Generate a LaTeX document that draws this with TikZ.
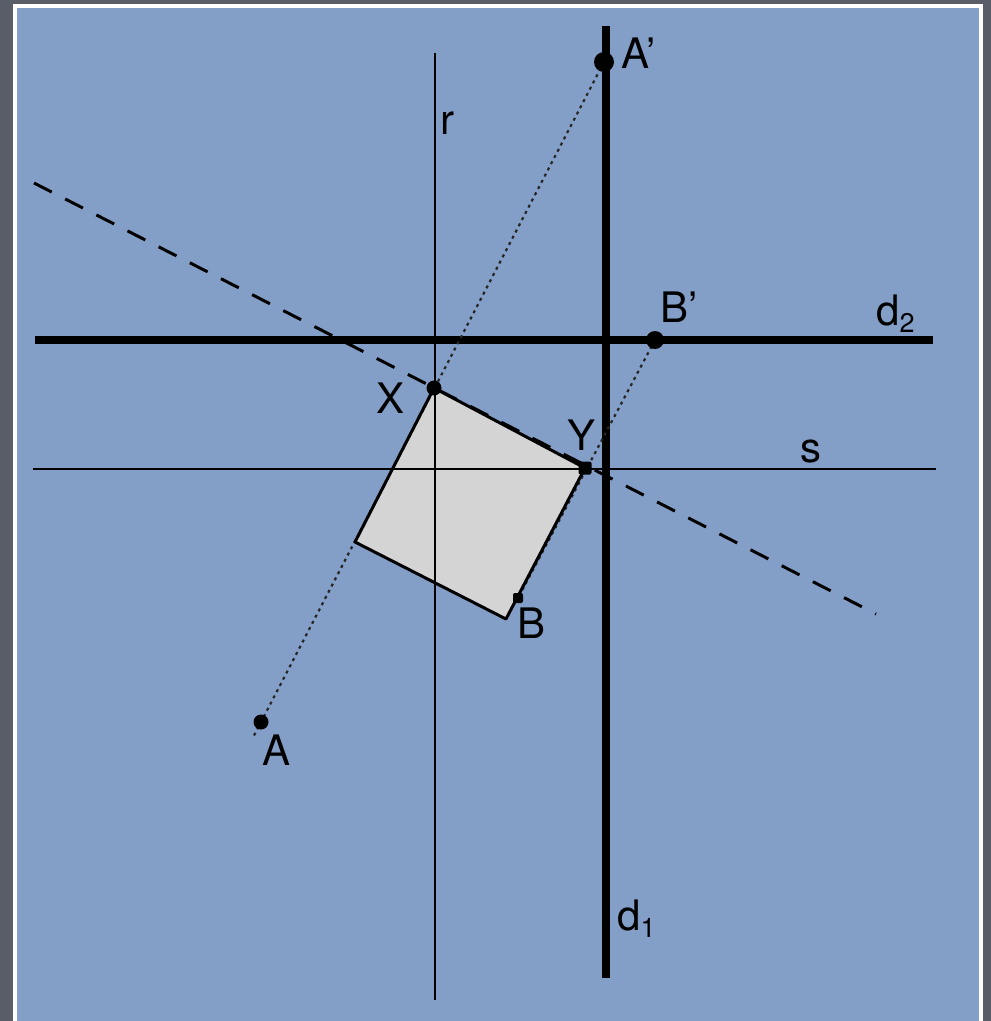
\documentclass[tikz,border=0pt]{standalone}
\usepackage{fontspec}
\setmainfont{TeX Gyre Heros}
\definecolor{slate}{RGB}{89,93,104}
\definecolor{paper}{RGB}{132,159,199}
\definecolor{tile}{RGB}{212,212,212}
\usetikzlibrary{calc}
\newcommand{\low}[1]{\raisebox{-7pt}{\fontsize{27}{30}\selectfont #1}}

\begin{document}
\begin{tikzpicture}[x=1pt,y=-1pt,
  thin line/.style={line width=2pt},
  guide/.style={line width=8pt},
  ray/.style={line width=2.2pt,dash pattern=on 3pt off 4pt,black!85},
  fold/.style={line width=3pt,dash pattern=on 20pt off 15pt},
  spot/.style={circle,fill=black,inner sep=0pt,minimum size=#1},
  blob/.style={rectangle,rounded corners=2pt,fill=black,inner sep=0pt,minimum size=#1},
  lab/.style={font=\fontsize{42}{48}\selectfont,inner sep=0pt,anchor=base west}]
  % slide background
  \useasboundingbox (0,0) rectangle (991,1021);
  \fill[slate] (0,0) rectangle (991,1021);
  \fill[white] (13,4) rectangle (983,1021);
  \fill[paper] (17,8) rectangle (979,1021);
  % line ends
  \coordinate (rtop) at (435,53);   \coordinate (rbot) at (435,1000);
  \coordinate (d1top) at (606,26);  \coordinate (d1bot) at (606,978);
  \coordinate (d2l) at (35,340);    \coordinate (d2r) at (933,340);
  \coordinate (sl) at (33,469);     \coordinate (sr) at (936,469);
  \coordinate (fl) at (34,183);     \coordinate (fr) at (876,614);
  % square
  \coordinate (X) at (434,388);
  \coordinate (Y) at (585,468);
  \coordinate (C) at (506,619);
  \coordinate (D) at (355,542);
  \fill[tile] (X) -- (Y) -- (C) -- (D) -- cycle;
  % lines r, s, d1, d2
  \draw[thin line] (rtop) -- (rbot);
  \draw[thin line] (sl) -- (sr);
  \draw[guide] (d1top) -- (d1bot);
  \draw[guide] (d2l) -- (d2r);
  \draw[fold] (fl) -- (fr);
  % points and images
  \coordinate (Apos) at (261,722);
  \coordinate (Appos) at (604,62);
  \coordinate (Bpos) at (518,598);
  \coordinate (Bppos) at (655,340);
  \coordinate (Aend) at ($(Appos)!1.025!(Apos)$);
  \draw[ray] (Appos) -- (Aend);
  \draw[ray] (Bppos) -- (Bpos);
  \draw[line width=3pt,line join=round] (X) -- (Y) -- (C) -- (D) -- cycle;
  \node[spot=15pt] (A) at (Apos) {};
  \node[spot=20pt] (Ap) at (Appos) {};
  \node[blob=10pt] (B) at (Bpos) {};
  \node[spot=18pt] (Bp) at (Bppos) {};
  \node[spot=15pt] (Xd) at (X) {};
  \node[blob=13pt] (Yd) at (Y) {};
  % labels
  \node[lab] (lAp) at (621,68) {A’};
  \node[lab] (lr) at (440,134) {r};
  \node[lab] (lBp) at (660,322) {B’};
  \node[lab] (ld2) at (876,325) {d\low{2}};
  \node[lab] (lX) at (376,413) {X};
  \node[lab] (lY) at (567,450) {Y};
  \node[lab] (ls) at (800,462) {s};
  \node[lab] (lB) at (517,638) {B};
  \node[lab] (lA) at (262,765) {A};
  \node[lab] (ld1) at (617,930) {d\low{1}};
\end{tikzpicture}
\end{document}
